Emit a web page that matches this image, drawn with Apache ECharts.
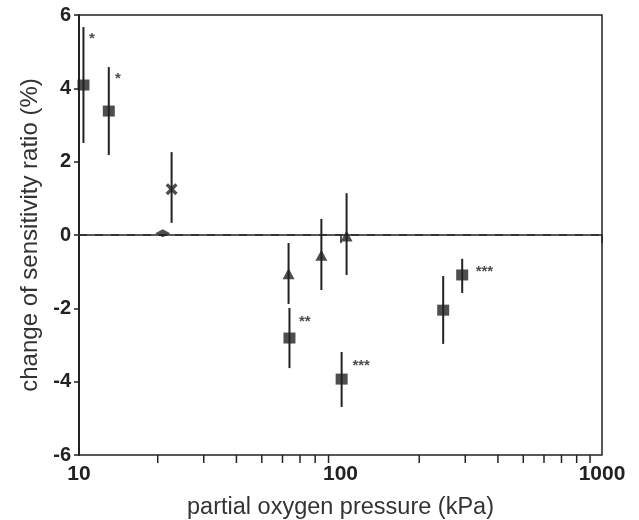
<!DOCTYPE html>
<html><head><meta charset="utf-8">
<script src="https://cdn.jsdelivr.net/npm/echarts@6/dist/echarts.min.js"></script>
<style>html,body{margin:0;padding:0;background:#fff}#c{width:639px;height:520px}</style>
</head><body><div id="c"></div>
<script>
// pressure (kPa), change (%), error low, error high
const squarePts = [
  [10.4, 4.09, 2.51, 5.67],
  [13.0, 3.38, 2.18, 4.58],
  [63.8, -2.81, -3.63, -1.99],
  [101, -3.93, -4.69, -3.19],
  [247, -2.05, -2.97, -1.12],
  [292, -1.09, -1.58, -0.65]
];
const trianglePts = [
  [63.3, -1.06, -1.88, -0.22],
  [84.5, -0.55, -1.50, 0.44],
  [105.5, -0.03, -1.09, 1.14]
];
const crossPts = [[22.6, 1.25, 0.33, 2.26]];
const diamondPts = [[20.9, 0.05, 0.05, 0.05]];
const annotations = [
  [11.2, 5.34, '*'],
  [14.1, 4.25, '*'],
  [73, -2.37, '**'],
  [120, -3.57, '***'],
  [355, -1.01, '***']
];
const zeroLine = [[10, 1000, 0]];
const minorTicks = [20,30,40,50,60,70,80,90,200,300,400,500,600,700,800,900];
const yTicks = [-6,-4,-2,0,2,4,6];
const xLabels = [10,100,1000];

const ink = '#222';
const font = 'Liberation Sans, Arial, Helvetica';
const allPts = squarePts.concat(trianglePts, crossPts);

const chart = echarts.init(document.getElementById('c'), null, {renderer:'canvas'});
chart.setOption({
  backgroundColor:'#fff',
  animation:false,
  grid:{left:79, right:37, top:15, bottom:65, show:true, borderColor:ink, borderWidth:1.5,
    containLabel:false, outerBoundsMode:'none'},
  xAxis:{
    type:'log', logBase:10, min:10, max:1000,
    axisLine:{show:true, lineStyle:{color:ink, width:1.5}},
    axisTick:{show:true, inside:false, length:8, lineStyle:{color:ink, width:1.5}},
    splitLine:{show:false},
    axisLabel:{color:ink, fontFamily:font, fontWeight:'bold', fontSize:21, margin:9,
      formatter:v => xLabels.includes(Math.round(v)) ? String(Math.round(v)) : ''},
    name:'partial oxygen pressure (kPa)', nameLocation:'middle', nameGap:41,
    nameTextStyle:{color:'#333', fontFamily:font, fontSize:23.5}
  },
  yAxis:{
    type:'value', min:-6, max:6, interval:2,
    axisLine:{show:true, lineStyle:{color:ink, width:2}},
    axisTick:{show:true, inside:false, length:5, lineStyle:{color:ink, width:1.5}},
    splitLine:{show:false},
    axisLabel:{color:ink, fontFamily:font, fontWeight:'bold', fontSize:20, margin:8,
      formatter:v => yTicks.includes(v) ? String(v) : ''},
    name:'change of sensitivity ratio (%)', nameLocation:'middle', nameGap:27,
    nameTextStyle:{color:'#333', fontFamily:font, fontSize:24}
  },
  series:[
    {
      type:'custom', name:'minorTicks', clip:false, silent:true,
      data:minorTicks.map(v=>[v]),
      renderItem:(params, api)=>{
        const p = api.coord([api.value(0), -6]);
        return {type:'line', shape:{x1:p[0], y1:p[1], x2:p[0], y2:p[1]+8},
          style:{stroke:ink, lineWidth:1.5}};
      }
    },
    {
      type:'custom', name:'zero', silent:true, data:zeroLine,
      renderItem:(params, api)=>{
        const a = api.coord([api.value(0), api.value(2)]);
        const b = api.coord([api.value(1), api.value(2)]);
        return {type:'line', shape:{x1:a[0], y1:a[1], x2:b[0], y2:b[1]},
          style:{stroke:'#333', lineWidth:2, lineDash:[8,8]}};
      },
      z:1
    },
    {
      type:'custom', name:'errorbars', silent:true,
      data:allPts.map(d=>[d[0], d[2], d[3]]),
      renderItem:(params, api)=>{
        const a = api.coord([api.value(0), api.value(1)]);
        const b = api.coord([api.value(0), api.value(2)]);
        return {type:'line', shape:{x1:a[0], y1:a[1], x2:b[0], y2:b[1]},
          style:{stroke:ink, lineWidth:2}};
      },
      z:2
    },
    {
      type:'scatter', name:'squares', symbol:'rect', symbolSize:[12,11],
      itemStyle:{color:ink}, data:squarePts.map(d=>[d[0], d[1]]), z:5
    },
    {
      type:'scatter', name:'triangles', symbol:'triangle', symbolSize:[12,11],
      itemStyle:{color:ink}, data:trianglePts.map(d=>[d[0], d[1]]), z:5
    },
    {
      type:'scatter', name:'cross', symbol:'path://M0,2 L2,0 L5,3 L8,0 L10,2 L7,5 L10,8 L8,10 L5,7 L2,10 L0,8 L3,5 Z',
      symbolSize:12, itemStyle:{color:ink}, data:crossPts.map(d=>[d[0], d[1]]), z:5
    },
    {
      type:'scatter', name:'diamond', symbol:'diamond', symbolSize:[15,8],
      itemStyle:{color:ink}, data:diamondPts.map(d=>[d[0], d[1]]), z:5
    },
    {
      type:'scatter', name:'annotations', symbolSize:0, silent:true,
      data:annotations.map(d=>({value:[d[0], d[1]], label:{formatter:d[2]}})),
      label:{show:true, position:'inside', color:ink, fontSize:15, fontWeight:'bold',
        fontFamily:font}
    }
  ]
});
</script></body></html>
